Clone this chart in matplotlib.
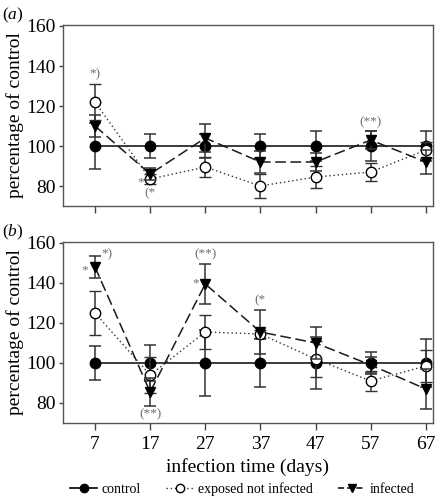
import matplotlib
matplotlib.use("Agg")
import matplotlib.pyplot as plt
from matplotlib.lines import Line2D

plt.rcParams["font.family"] = ["Liberation Serif", "DejaVu Serif"]
plt.rcParams["mathtext.fontset"] = "custom"
plt.rcParams["mathtext.rm"] = "Liberation Serif"
plt.rcParams["mathtext.it"] = "Liberation Serif:italic"

days = [7, 17, 27, 37, 47, 57, 67]

# panel (a)
a_control = [100, 100, 100, 100, 100, 100, 100]
a_control_err = [11.6, 5.8, 6, 6, 7.5, 7.5, 7.5]
a_exposed = [122, 83.5, 89.5, 80, 84.5, 87, 98]
a_exposed_err = [9, 2.5, 5, 6, 5.5, 4.5, 4]
a_infected = [110, 86, 104, 92, 92, 103, 92]
a_infected_err = [5.7, 3, 7, 5.5, 4.5, 4.5, 6]

# panel (b)
b_control = [100, 100, 100, 100, 100, 100, 100]
b_control_err = [8.5, 9, 16.5, 12, 13, 5.5, 12]
b_exposed = [125, 94, 115.5, 114.5, 102, 91, 98.5]
b_exposed_err = [11, 9, 8.5, 2, 9, 5, 8]
b_infected = [148, 85.5, 139.5, 115.5, 110, 99, 87]
b_infected_err = [5.5, 7, 10, 11, 8, 4, 10]

# significance marks (text, day, value)
a_marks = [("*)", 7, 136), ("*", 15.3, 82), ("(*", 17, 76.5), ("(**)", 57, 112)]
b_marks = [("*", 5.2, 146.5), ("*)", 9.2, 154.5), ("(**)", 17, 74.5),
           ("(**)", 27, 154.5), ("*", 25.3, 140), ("(*", 37, 131.5)]

ERR_COLOR = "#333333"
MARK_COLOR = "#6e6e6e"


def draw_panel(ax, ctrl, ctrl_e, expo, expo_e, inf, inf_e, marks):
    kw = dict(ecolor=ERR_COLOR, elinewidth=1.1, capsize=4.5, capthick=1.1)
    ax.errorbar(days, ctrl, yerr=ctrl_e, color="#1a1a1a", ls="-", lw=1.2,
                marker="o", ms=7.5, mfc="black", mec="black", zorder=3, **kw)
    ax.errorbar(days, expo, yerr=expo_e, color="#333333", ls=(0, (1, 2)), lw=1.0,
                marker="o", ms=7.5, mfc="white", mec="black", mew=1.0, zorder=4, **kw)
    ax.errorbar(days, inf, yerr=inf_e, color="#1a1a1a", ls=(0, (7, 3)), lw=1.1,
                marker="v", ms=7.5, mfc="black", mec="black", zorder=5, **kw)
    for txt, x, y in marks:
        ax.text(x, y, txt, color=MARK_COLOR, fontsize=9.5, ha="center", va="center",
                zorder=6)
    ax.set_xlim(1.2, 68.3)
    ax.set_ylim(70, 160.5)
    ax.set_yticks([80, 100, 120, 140, 160])
    ax.set_xticks(days)
    ax.set_ylabel("percentage of control", fontsize=14, labelpad=2)
    ax.tick_params(labelsize=14, direction="out", color="#444444", width=1)
    ax.tick_params(axis="y", length=3, pad=2)
    ax.tick_params(axis="x", length=5, pad=4)
    for s in ax.spines.values():
        s.set_color("#555555")
        s.set_linewidth(1.0)


fig = plt.figure(figsize=(4.44, 4.98), dpi=100)
ax1 = fig.add_axes([0.1419, 0.5863, 0.8333, 0.3635])
ax2 = fig.add_axes([0.1419, 0.1506, 0.8333, 0.3635])

draw_panel(ax1, a_control, a_control_err, a_exposed, a_exposed_err,
           a_infected, a_infected_err, a_marks)
ax1.set_xticklabels([])
draw_panel(ax2, b_control, b_control_err, b_exposed, b_exposed_err,
           b_infected, b_infected_err, b_marks)
ax2.set_xlabel("infection time (days)", fontsize=14, labelpad=4)

fig.text(0.004, 0.988, r"($\it{a}$)", fontsize=12.5, va="top")
fig.text(0.004, 0.552, r"($\it{b}$)", fontsize=12.5, va="top")

handles = [
    Line2D([], [], color="black", ls="-", lw=1.2, marker="o", ms=6, mfc="black"),
    Line2D([], [], color="#333333", ls=(0, (1, 2)), lw=1.0, marker="o", ms=6,
           mfc="white", mec="black"),
    Line2D([], [], color="black", ls=(0, (4, 2)), lw=1.1, marker="v", ms=6, mfc="black"),
]
fig.legend(handles, ["control", "exposed not infected", "infected"],
           loc="center", bbox_to_anchor=(0.545, 0.018), ncol=3, frameon=False,
           fontsize=10, handlelength=2.0, handletextpad=0.3, columnspacing=1.8)

fig.savefig("out.png", dpi=100)
